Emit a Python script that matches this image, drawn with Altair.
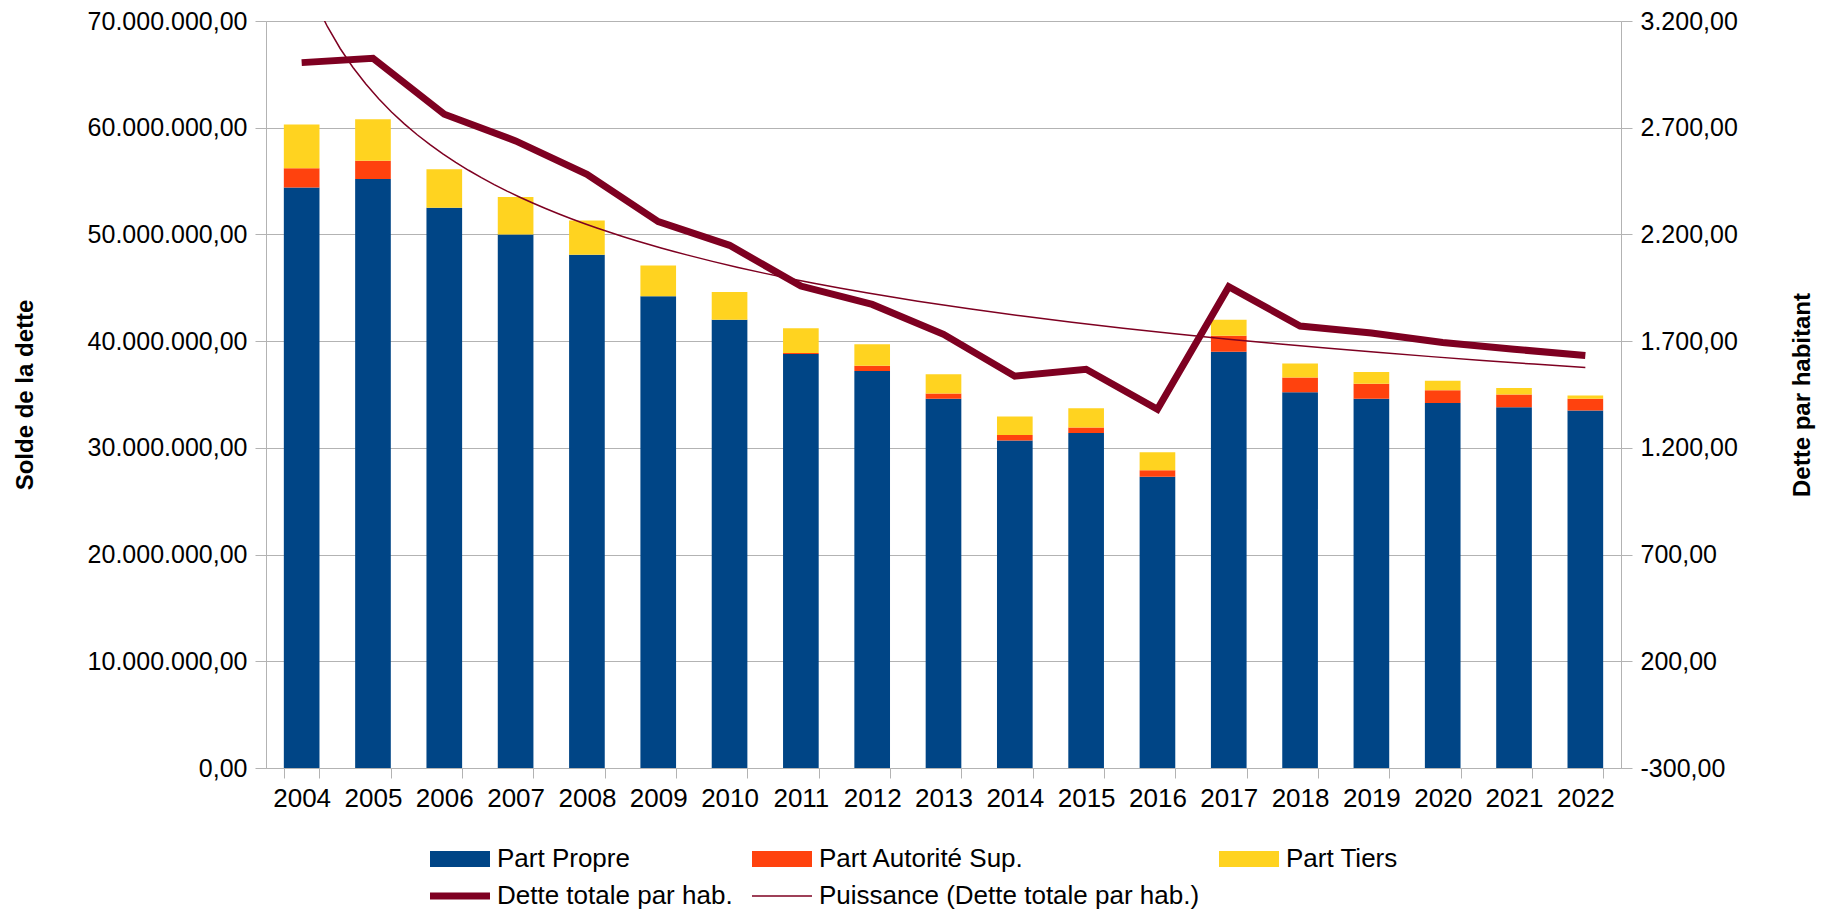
import altair as alt
import pandas as pd

# ---------------- data ----------------
years = [str(y) for y in range(2004, 2023)]
part_propre = [54.4e6, 55.2e6, 52.5e6, 50.0e6, 48.1e6, 44.2e6, 42.0e6, 38.8e6, 37.2e6, 34.6e6,
               30.7e6, 31.4e6, 27.3e6, 39.0e6, 35.2e6, 34.6e6, 34.2e6, 33.8e6, 33.5e6]
part_autorite = [1.8e6, 1.7e6, 0.0, 0.0, 0.0, 0.0, 0.0, 0.1e6, 0.5e6, 0.5e6,
                 0.5e6, 0.5e6, 0.6e6, 1.5e6, 1.4e6, 1.4e6, 1.2e6, 1.2e6, 1.1e6]
part_tiers = [4.1e6, 3.9e6, 3.6e6, 3.5e6, 3.2e6, 2.9e6, 2.6e6, 2.3e6, 2.0e6, 1.8e6,
              1.75e6, 1.8e6, 1.7e6, 1.5e6, 1.3e6, 1.1e6, 0.9e6, 0.6e6, 0.3e6]
dette_hab = [3005, 3025, 2763, 2638, 2482, 2260, 2149, 1958, 1872, 1732,
             1536, 1568, 1381, 1955, 1771, 1738, 1694, 1662, 1633]

parts = ["Part Propre", "Part Autorité Sup.", "Part Tiers"]
line_name = "Dette totale par hab."
trend_name = "Puissance (Dette totale par hab.)"
series_names = parts + [line_name, trend_name]
colors = ["#004586", "#ff420e", "#ffd320", "#7e0021", "#7e0021"]

left_ticks = [0, 10e6, 20e6, 30e6, 40e6, 50e6, 60e6, 70e6]
right_ticks = [-300, 200, 700, 1200, 1700, 2200, 2700, 3200]

rows = []
for i, y in enumerate(years):
    for k, arr in enumerate([part_propre, part_autorite, part_tiers]):
        rows.append({"year": y, "part": parts[k], "value": arr[i], "ord": k})
bars_df = pd.DataFrame(rows)
line_df = pd.DataFrame({"idx": list(range(1, len(years) + 1)), "dette": dette_hab})

# ---------------- styling helpers ----------------
FONT = "Liberation Sans"
GRAY = "#b3b3b3"
fmt_expr = ("replace(replace(replace(replace(format(datum.value, ',.2f'), regexp(',', 'g'), '#'), '.', ','), "
            "regexp('#', 'g'), '.'), '\u2212', '-')")

color_scale = alt.Scale(domain=series_names, range=colors)
is_line = f"(datum.value === '{line_name}' || datum.value === '{trend_name}')"
legend = alt.Legend(
    title=None, orient="none", legendX=159, legendY=825, columns=3, direction="horizontal",
    symbolSize=256,
    symbolType=alt.ExprRef(expr=f"{is_line} ? 'M-1,0H6.5' : 'M-1,-1H6.5V1H-1Z'"),
    symbolStrokeWidth=alt.ExprRef(expr=f"datum.value === '{line_name}' ? 7 : (datum.value === '{trend_name}' ? 1.5 : 0)"),
    symbolStrokeColor=alt.ExprRef(expr="scale('color', datum.value)"),
    symbolFillColor=alt.ExprRef(expr="scale('color', datum.value)"),
    symbolOpacity=1,
    labelFontSize=26, labelFont=FONT,
    labelColor="#000000", labelOffset=46, columnPadding=14, rowPadding=10, gridAlign="each",
    padding=0, labelLimit=700,
)

# ---------------- bars ----------------
bars = alt.Chart(bars_df).mark_bar().encode(
    x=alt.X("year:O", scale=alt.Scale(paddingInner=0.5, paddingOuter=0.25),
            axis=alt.Axis(title=None, labelAngle=0, tickBand="extent", tickSize=10, labelPadding=7,
                          labelFontSize=26, labelFont=FONT, labelColor="#000000", domainColor=GRAY,
                          tickColor=GRAY, grid=False)),
    y=alt.Y("value:Q", stack="zero", scale=alt.Scale(domain=[0, 70e6], nice=False),
            axis=alt.Axis(title="Solde de la dette", values=left_ticks, labelExpr=fmt_expr,
                          tickSize=11, labelPadding=8, labelFontSize=25, labelFont=FONT,
                          labelColor="#000000", titleFont=FONT, titleFontSize=24,
                          titleFontWeight="bold", titleColor="#000000", titlePadding=50,
                          domainColor=GRAY, tickColor=GRAY, grid=True, gridColor=GRAY)),
    color=alt.Color("part:N", scale=color_scale, legend=legend),
    order=alt.Order("ord:Q"),
)

# ---------------- lines ----------------
x_lin = alt.X("idx:Q", scale=alt.Scale(domain=[0.5, len(years) + 0.5], nice=False, zero=False), axis=None)
right_axis = alt.Axis(title="Dette par habitant", orient="right", values=right_ticks, labelExpr=fmt_expr,
                      tickSize=11, labelPadding=8, labelFontSize=25, labelFont=FONT,
                      labelColor="#000000", titleFont=FONT, titleFontSize=24, titleFontWeight="bold",
                      titleColor="#000000", titleAngle=270, titleBaseline="top", titlePadding=53,
                      domainColor=GRAY, tickColor=GRAY, grid=False)
y_lin = alt.Y("dette:Q", scale=alt.Scale(domain=[-300, 3200], nice=False, zero=False), axis=right_axis)

line = alt.Chart(line_df).transform_calculate(series=f"'{line_name}'").mark_line(
    strokeWidth=7, strokeJoin="miter").encode(
    x=x_lin, y=y_lin, color=alt.Color("series:N", scale=color_scale, legend=legend))

trend = alt.Chart(line_df).transform_calculate(series=f"'{trend_name}'").transform_regression(
    "idx", "dette", method="pow", groupby=["series"]).mark_line(strokeWidth=1.5, clip=True).encode(
    x=x_lin, y=y_lin, color=alt.Color("series:N", scale=color_scale, legend=legend))

lines = alt.layer(line, trend)

chart = alt.layer(bars, lines).resolve_scale(x="independent", y="independent").properties(
    width=1355, height=747,
    autosize=alt.AutoSizeParams(type="none"),
    padding={"left": 258, "top": 13, "right": 200, "bottom": 142},
).configure_view(stroke=None).configure(font=FONT, background="white")

chart.save("out.html", embed_options={"renderer": "svg", "actions": False})
